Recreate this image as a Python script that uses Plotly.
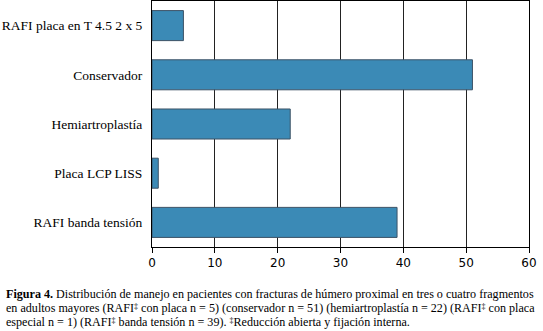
import plotly.graph_objects as go

categories = ["RAFI placa en T 4.5 2 x 5", "Conservador", "Hemiartroplastía",
              "Placa LCP LISS", "RAFI banda tensión"]
values = [5, 51, 22, 1, 39]
x_ticks = [0, 10, 20, 30, 40, 50, 60]

DAG = "<span style='font-size:8px;baseline-shift:35%'>‡</span>"
caption_lines = [
    "<b>Figura 4.</b> Distribución de manejo en pacientes con fracturas de húmero proximal en tres o cuatro fragmentos",
    f"en adultos mayores (RAFI{DAG} con placa n = 5) (conservador n = 51) (hemiartroplastía n = 22) (RAFI{DAG} con placa",
    f"especial n = 1) (RAFI{DAG} banda tensión n = 39). {DAG}Reducción abierta y fijación interna.",
]

SERIF = "Liberation Serif"
SANS = "DejaVu Sans"

W, H = 543, 331
ml, mr, mt, mb = 151.5, 14, 1, 84
plot_h = H - mt - mb

fig = go.Figure(go.Bar(
    y=categories, x=values, orientation="h",
    marker=dict(color="#3b8ab6", line=dict(color="#3c5266", width=1)),
))

fig.update_layout(
    width=W, height=H,
    margin=dict(l=ml, r=mr, t=mt, b=mb, pad=0),
    paper_bgcolor="white", plot_bgcolor="white",
    bargap=0.39, showlegend=False,
    font=dict(family=SERIF, color="black"),
)
fig.update_xaxes(
    range=[0, 60], tickvals=x_ticks, ticktext=[str(v) for v in x_ticks],
    showgrid=True, gridcolor="#222222", gridwidth=1,
    showline=True, linecolor="black", linewidth=1, mirror=True,
    ticks="outside", ticklen=5, tickcolor="black",
    tickfont=dict(family=SANS, size=12, color="black"),
    zeroline=False,
)
fig.update_yaxes(
    categoryorder="array", categoryarray=categories, autorange="reversed",
    showline=True, linecolor="black", linewidth=1, mirror=True,
    ticks="", ticklabelstandoff=6,
    tickfont=dict(family=SERIF, size=13.5, color="black"),
)

line_y_px = [294, 308, 322]
for txt, ypx in zip(caption_lines, line_y_px):
    fig.add_annotation(
        text=txt, xref="paper", yref="paper",
        x=(3 - ml) / (W - ml - mr), y=(H - mb - ypx) / plot_h,
        xanchor="left", yanchor="middle", showarrow=False, align="left",
        font=dict(family=SERIF, size=12.1, color="black"),
    )

fig.write_html("out.html", config={"displayModeBar": False},
               post_script="document.body.style.margin='0';")
